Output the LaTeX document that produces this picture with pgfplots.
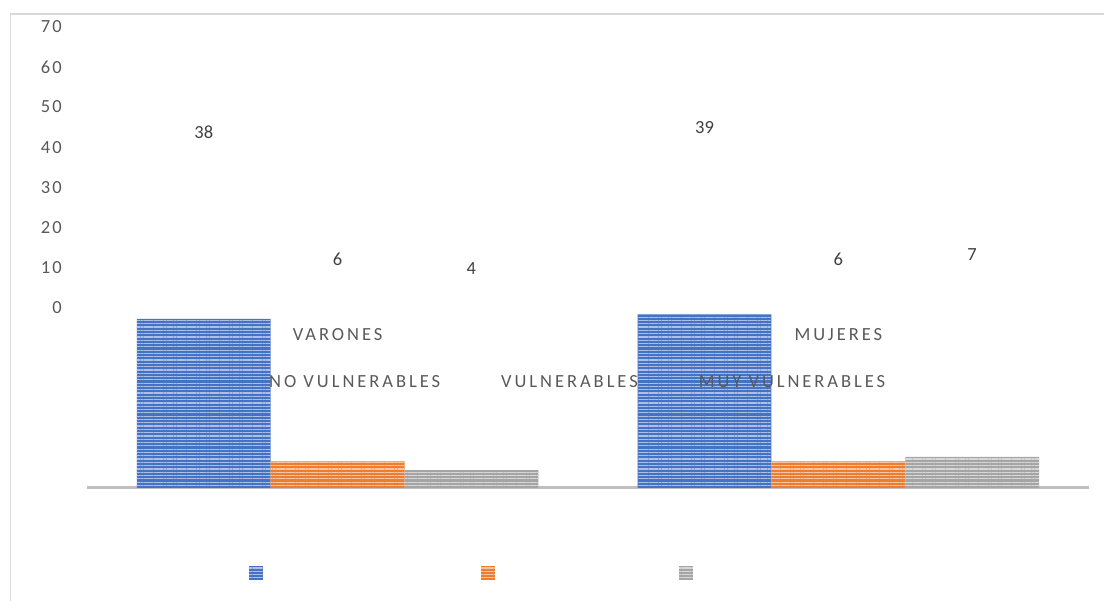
\documentclass[border=0pt]{standalone}
\usepackage{pgfplots}
\pgfplotsset{compat=1.18}
\usetikzlibrary{patterns.meta}
\usepackage{fontspec}
\setmainfont{Carlito}
\newfontfamily\spaced[LetterSpace=16]{Carlito}
\newfontfamily\tickfont[LetterSpace=12]{Carlito}
\definecolor{cblue}{HTML}{4472C4}
\definecolor{corange}{HTML}{ED7D31}
\definecolor{cgray}{HTML}{A5A5A5}
\definecolor{txt}{HTML}{595959}
\definecolor{lbl}{HTML}{404040}
\definecolor{framegray}{HTML}{D9D9D9}
\definecolor{basegray}{HTML}{BFBFBF}
\begin{document}
\fontsize{18.5pt}{22pt}\selectfont
\begin{tikzpicture}[x=1pt,y=1pt]
\useasboundingbox (0,0) rectangle (1104,601);
\draw[color=framegray, line width=1.5pt] (10.5,0) -- (10.5,587) -- (1104,587);
\begin{axis}[
  at={(87.25pt,113pt)}, anchor=south west,
  scale only axis, width=1001.5pt, height=474pt,
  xmin=-0.5, xmax=1.5, ymin=0, ymax=106.52,
  ybar=0pt, bar width=0.2672,
  separate axis lines,
  axis x line*=bottom, axis y line*=left,
  x axis line style={-, draw=basegray, line width=3pt},
  y axis line style={draw=none},
  major tick length=0pt,
  xtick={0,1}, xticklabels={VARONES, MUJERES},
  xticklabel style={anchor=center, yshift=153pt, font=\spaced\fontsize{18.5pt}{22pt}\selectfont, text=txt},
  ytick={40.56,49.57,58.58,67.59,76.61,85.62,94.63,103.64},
  yticklabels={0,10,20,30,40,50,60,70},
  yticklabel style={anchor=east, inner sep=0pt, xshift=-25.25pt, font=\tickfont\fontsize{18.5pt}{22pt}\selectfont, text=txt},
  /pgf/number format/assume math mode=true,
  nodes near coords,
  every node near coord/.append style={anchor=center, text=lbl, font=\fontsize{18.5pt}{22pt}\selectfont},
  legend columns=3,
  legend style={draw=none, fill=none, at={(0.1615,-0.1793)}, anchor=west, inner sep=0pt,
    nodes={inner sep=0pt, text=txt, font=\spaced\fontsize{18.5pt}{22pt}\selectfont},
    /tikz/every odd column/.append style={column sep=6pt},
    /tikz/every even column/.append style={column sep=41pt}},
  legend image code/.code={\fill[#1] (0pt,-7pt) rectangle (14pt,7pt);},
]
\addplot[fill=cblue, draw=none, postaction={pattern={Lines[angle=0, distance=3.3pt, line width=1.2pt]}, pattern color=white!55!cblue},
  every node near coord/.append style={yshift=186.5pt}]
  coordinates {(0,38) (1,39)};
\addplot[fill=corange, draw=none, postaction={pattern={Lines[angle=0, distance=3.3pt, line width=1.2pt]}, pattern color=white!55!corange},
  every node near coord/.append style={yshift=202pt}]
  coordinates {(0,6) (1,6)};
\addplot[fill=cgray, draw=none, postaction={pattern={Lines[angle=0, distance=3.3pt, line width=1.2pt]}, pattern color=white!55!cgray},
  every node near coord/.append style={yshift=202pt}]
  coordinates {(0,4) (1,7)};
\legend{\raisebox{184pt}[0pt][0pt]{NO VULNERABLES},\raisebox{184pt}[0pt][0pt]{VULNERABLES},\raisebox{184pt}[0pt][0pt]{MUY VULNERABLES}}
\end{axis}
\end{tikzpicture}
\end{document}
